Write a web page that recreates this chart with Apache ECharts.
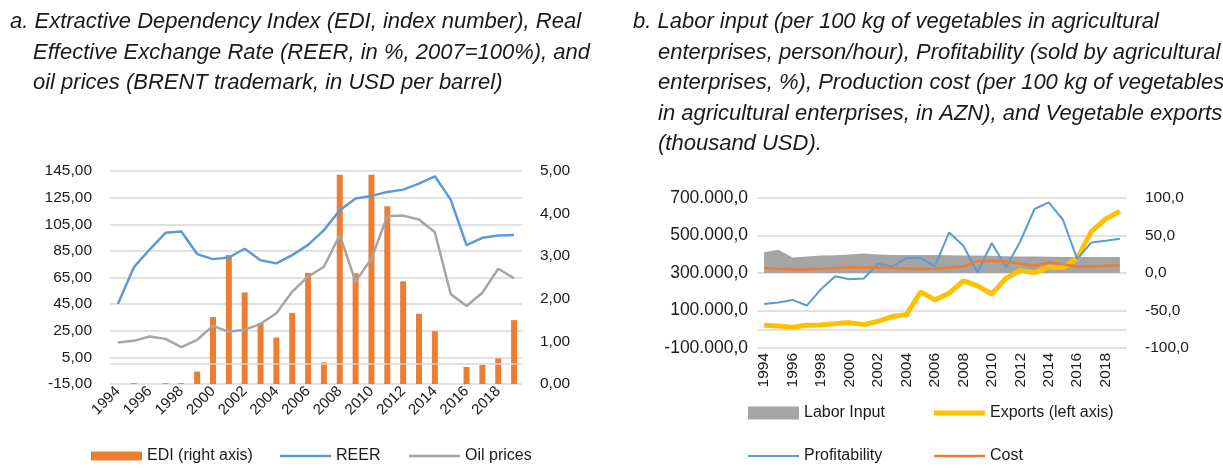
<!DOCTYPE html>
<html>
<head>
<meta charset="utf-8">
<script src="https://cdn.jsdelivr.net/npm/echarts@6/dist/echarts.min.js"></script>
<style>
  html, body { margin: 0; padding: 0; background: #fff; }
  #chart { width: 1223px; height: 468px; }
</style>
</head>
<body>
<div id="chart"></div>
<script>
// categories
const years = ['1994','1995','1996','1997','1998','1999','2000','2001','2002','2003','2004','2005','2006',
               '2007','2008','2009','2010','2011','2012','2013','2014','2015','2016','2017','2018','2019'];

// panel a
const edi = [0, 0.02, 0, 0.02, 0.02, 0.29, 1.57, 3.03, 2.15, 1.43, 1.09, 1.67, 2.61,
             0.51, 4.91, 2.6, 4.91, 4.17, 2.41, 1.65, 1.24, 0, 0.4, 0.45, 0.6, 1.5];
const reer = [45.1, 72.6, 86, 98.6, 99.6, 82.6, 78.8, 80, 86.6, 78, 75.6, 81.8, 89.5,
              100.6, 115.5, 124.3, 126.3, 129.3, 131, 135.5, 141, 123.5, 89.3, 94.8, 96.6, 97];
const oil = [16.2, 17.4, 20.7, 18.9, 12.7, 18.2, 28.7, 24.2, 25.7, 30.2, 38.2, 54.4, 65.6,
             73.1, 96.8, 61.9, 79.3, 111, 111.5, 108.6, 99, 52.6, 43.6, 53.6, 71.6, 64.4];

// panel b
const labor = [27.8, 31, 20.7, 22, 23.4, 23.8, 24.7, 26, 24.7, 24, 24, 24, 24,
               23.8, 23.5, 23.2, 23, 22.5, 22, 22, 21.8, 21.5, 21.5, 21.3, 21.2, 21.2];
const exportsUsd = [21200, 17600, 10500, 21000, 23000, 30000, 35400, 24700, 42500, 67500, 78000, 199400, 156600,
                    192000, 258000, 231400, 188000, 272400, 313400, 302000, 331000, 329000, 379000, 521800, 588000, 628700];
const profit = [-41.2, -39.4, -35.9, -43.4, -21.6, -4.2, -8.2, -7.3, 12.3, 8.7, 19.8, 20.3, 8.7,
                54.1, 36.3, 0.7, 40, 7.8, 42, 85.3, 94.2, 71, 18.5, 40.8, 43, 45.7];
const cost = [6.5, 5.6, 4.7, 4.7, 5.6, 6.5, 7.8, 6.9, 7.8, 6.9, 6, 5.1, 6,
              6.9, 8.7, 15.8, 16.3, 15.4, 12.2, 9.6, 14, 11.8, 8.7, 8.7, 9.6, 10.5];

const titleA = [
  'a. Extractive Dependency Index (EDI, index number), Real',
  'Effective Exchange Rate (REER, in %, 2007=100%), and',
  'oil prices (BRENT trademark, in USD per barrel)'
];
const titleB = [
  'b. Labor input (per 100 kg of vegetables in agricultural',
  'enterprises, person/hour), Profitability (sold by agricultural',
  'enterprises, %), Production cost (per 100 kg of vegetables',
  'in agricultural enterprises, in AZN), and Vegetable exports',
  '(thousand USD).'
];

const FONT = "'Liberation Sans Narrow', 'Arial Narrow', 'Liberation Sans', sans-serif";
const TXT = '#1a1a1a';
const GRID = '#d9d9d9';

function comma2(v) { return v.toFixed(2).replace('.', ','); }
function comma1(v) { return v.toFixed(1).replace('.', ','); }
function thousands(v) {
  const s = Math.abs(v).toFixed(0).replace(/\B(?=(\d{3})+(?!\d))/g, '.');
  return (v < 0 ? '-' : '') + s + ',0';
}

const titles = [];
titleA.forEach((t, i) => titles.push({
  text: t, left: i === 0 ? 10 : 33, top: 11 + i * 30.5, padding: 0,
  textStyle: { fontFamily: FONT, fontStyle: 'italic', fontWeight: 'normal', fontSize: 22, color: TXT }
}));
titleB.forEach((t, i) => titles.push({
  text: t, left: i === 0 ? 633 : 658, top: 11 + i * 30.5, padding: 0,
  textStyle: { fontFamily: FONT, fontStyle: 'italic', fontWeight: 'normal', fontSize: 22, color: TXT }
}));

// one legend per entry, drawn as a flat rectangle (bar block or line stroke)
function legendAt(name, left, top, h) {
  return {
    data: [{ name: name, icon: 'rect' }], left: left, top: top, padding: 0,
    itemWidth: 51, itemHeight: h, selectedMode: false,
    textStyle: { fontFamily: FONT, fontSize: 16, color: TXT }
  };
}

const labelStyle = (size) => ({ fontFamily: FONT, fontSize: size, color: TXT });

const catAxis = (gridIndex, rotate, margin, size) => ({
  type: 'category', gridIndex: gridIndex, data: years, boundaryGap: true,
  axisLine: { show: false }, axisTick: { show: false },
  axisLabel: Object.assign({ interval: 1, rotate: rotate, margin: margin }, labelStyle(size))
});

const option = {
  animation: false,
  backgroundColor: '#fff',
  title: titles,
  legend: [
    legendAt('EDI (right axis)', 91, 448, 9),
    legendAt('REER', 280, 448, 2.5),
    legendAt('Oil prices', 409, 448, 2.5),
    legendAt('Labor Input', 748, 405, 13),
    legendAt('Exports (left axis)', 934, 405, 5),
    legendAt('Profitability', 748, 448, 2),
    legendAt('Cost', 934, 448, 2.5)
  ],
  grid: [
    { left: 110, top: 171, width: 412, height: 213 },
    { left: 757, top: 198, width: 370, height: 150 }
  ],
  xAxis: [catAxis(0, 45, 5, 15), catAxis(1, 90, 5, 15.5)],
  yAxis: [
    { type: 'value', gridIndex: 0, min: -15, max: 145, interval: 20,
      axisLine: { show: false }, axisTick: { show: false },
      splitLine: { lineStyle: { color: GRID, width: 1.5 } },
      axisLabel: Object.assign({ formatter: comma2, margin: 18 }, labelStyle(15.5)) },
    { type: 'value', gridIndex: 0, position: 'right', min: 0, max: 5, interval: 1,
      axisLine: { show: false }, axisTick: { show: false }, splitLine: { show: false },
      axisLabel: Object.assign({ formatter: comma2, margin: 18 }, labelStyle(15.5)) },
    { type: 'value', gridIndex: 1, min: -100000, max: 700000, interval: 200000,
      axisLine: { show: false }, axisTick: { show: false },
      splitLine: { lineStyle: { color: GRID, width: 1.5 } },
      axisLabel: Object.assign({ formatter: thousands, margin: 9 }, labelStyle(17.5)) },
    { type: 'value', gridIndex: 1, position: 'right', min: -100, max: 100, interval: 50,
      axisLine: { show: false }, axisTick: { show: false }, splitLine: { show: false },
      axisLabel: Object.assign({ formatter: comma1, margin: 18 }, labelStyle(15.5)) }
  ],
  series: [
    { name: 'EDI (right axis)', type: 'bar', xAxisIndex: 0, yAxisIndex: 1, data: edi,
      barWidth: 6, itemStyle: { color: '#ed7d31' } },
    { name: 'REER', type: 'line', xAxisIndex: 0, yAxisIndex: 0, data: reer,
      symbol: 'none', lineStyle: { color: '#5b9bd5', width: 2.5 }, itemStyle: { color: '#5b9bd5' } },
    { name: 'Oil prices', type: 'line', xAxisIndex: 0, yAxisIndex: 0, data: oil,
      symbol: 'none', lineStyle: { color: '#a5a5a5', width: 2.5 }, itemStyle: { color: '#a5a5a5' },
      markLine: { silent: true, symbol: 'none', label: { show: false },
        lineStyle: { color: GRID, width: 1.5, type: 'solid' }, data: [{ yAxis: 0 }] } },

    { name: 'Labor Input', type: 'line', xAxisIndex: 1, yAxisIndex: 3, data: labor,
      symbol: 'none', lineStyle: { width: 0 }, itemStyle: { color: '#a5a5a5' },
      areaStyle: { color: '#a5a5a5', opacity: 1 } },
    { name: 'Exports (left axis)', type: 'line', xAxisIndex: 1, yAxisIndex: 2, data: exportsUsd,
      symbol: 'none', lineStyle: { color: '#ffc000', width: 5 }, itemStyle: { color: '#ffc000' },
      markLine: { silent: true, symbol: 'none', label: { show: false },
        lineStyle: { color: GRID, width: 1.5, type: 'solid' }, data: [{ yAxis: 0 }] } },
    { name: 'Profitability', type: 'line', xAxisIndex: 1, yAxisIndex: 3, data: profit,
      symbol: 'none', lineStyle: { color: '#5b9bd5', width: 2 }, itemStyle: { color: '#5b9bd5' } },
    { name: 'Cost', type: 'line', xAxisIndex: 1, yAxisIndex: 3, data: cost,
      symbol: 'none', lineStyle: { color: '#ed7d31', width: 2.5 }, itemStyle: { color: '#ed7d31' } }
  ]
};

const chart = echarts.init(document.getElementById('chart'), null, { renderer: 'canvas' });
chart.setOption(option);
</script>
</body>
</html>
